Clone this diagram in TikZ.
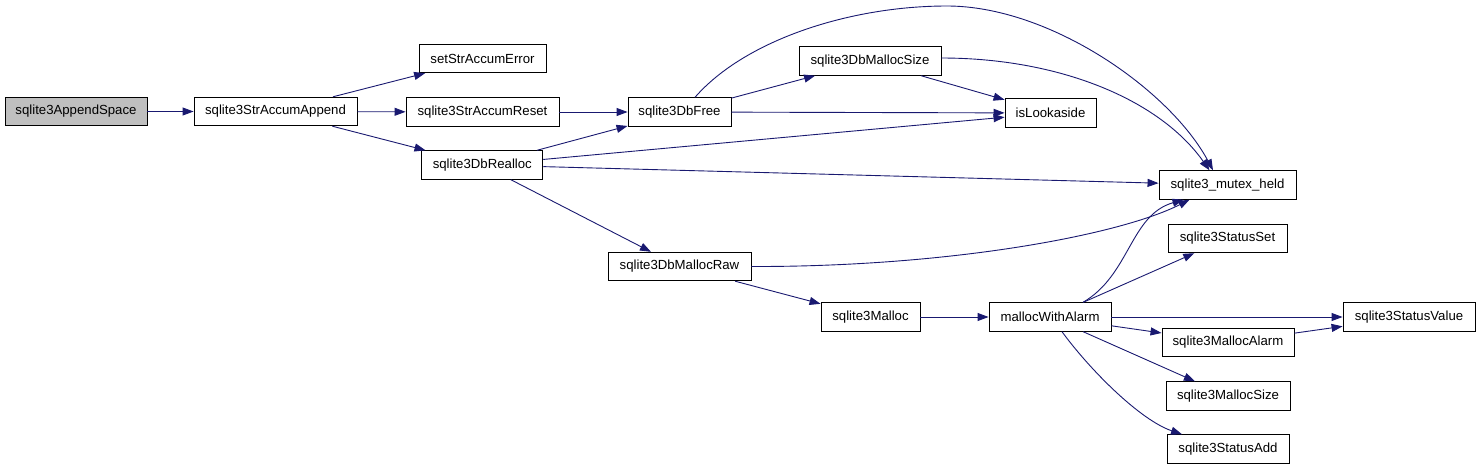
\documentclass[tikz,border=0pt]{standalone}
\usepackage{fontspec}
\setmainfont{Liberation Sans}
\usetikzlibrary{arrows.meta}
\definecolor{edgeblue}{RGB}{25,25,112}
\definecolor{rootgray}{RGB}{191,191,191}
\begin{document}
\begin{tikzpicture}[x=1pt,y=-1pt,
  fn/.style={draw=black, line width=0.9pt, minimum height=28.5pt, inner sep=0pt, font=\fontsize{13.2}{15}\selectfont, fill=white},
  root/.style={fn, fill=rootgray},
  call/.style={draw=edgeblue, line width=0.9pt, -{Triangle[length=11pt,width=8pt]}}]
\useasboundingbox (0,0) rectangle (1480,469);
% nodes
\node[root, minimum width=142pt] (app) at (76,111.5) {sqlite3AppendSpace};
\node[fn, minimum width=163pt] (sacc) at (275.5,111.5) {sqlite3StrAccumAppend};
\node[fn, minimum width=127pt] (serr) at (482.5,58.5) {setStrAccumError};
\node[fn, minimum width=153pt] (sres) at (482.5,112) {sqlite3StrAccumReset};
\node[fn, minimum width=121pt] (realloc) at (482.3,165) {sqlite3DbRealloc};
\node[fn, minimum width=103pt] (free) at (679.5,112) {sqlite3DbFree};
\node[fn, minimum width=142pt] (dbms) at (870,61) {sqlite3DbMallocSize};
\node[fn, minimum width=91pt] (look) at (1050.5,113) {isLookaside};
\node[fn, minimum width=137pt] (mutex) at (1227.5,185) {sqlite3\_mutex\_held};
\node[fn, minimum width=143pt] (raw) at (679.5,266.5) {sqlite3DbMallocRaw};
\node[fn, minimum width=99pt] (malloc) at (870.5,317) {sqlite3Malloc};
\node[fn, minimum width=122pt] (mwa) at (1050,317) {mallocWithAlarm};
\node[fn, minimum width=119pt] (sset) at (1227.5,238.5) {sqlite3StatusSet};
\node[fn, minimum width=132pt] (sval) at (1409,317) {sqlite3StatusValue};
\node[fn, minimum width=132pt] (malarm) at (1228,342.5) {sqlite3MallocAlarm};
\node[fn, minimum width=124pt] (msize) at (1228,396) {sqlite3MallocSize};
\node[fn, minimum width=122pt] (sadd) at (1228,449) {sqlite3StatusAdd};
% edges
\draw[call] (app) -- (sacc);
\draw[call] (sacc) -- (serr);
\draw[call] (sacc) -- (sres);
\draw[call] (sacc) -- (realloc);
\draw[call] (sres) -- (free);
\draw[call] (realloc) -- (free);
\draw[call] (realloc) -- (look);
\draw[call] (realloc) -- (mutex);
\draw[call] (realloc) -- (raw);
\draw[call] (free) -- (dbms);
\draw[call] (free) -- (look);
\draw[call] ([xshift=15.5pt]free.north) .. controls (745,40) and (850,6) .. (947,6)
  .. controls (1050,6) and (1170,90) .. ([xshift=-14.5pt]mutex.north);
\draw[call] (dbms) -- (look);
\draw[call] ([yshift=3pt]dbms.east) .. controls (1060,58) and (1160,100) .. ([xshift=-18pt]mutex.north);
\draw[call] (raw.east) .. controls (950,267) and (1120,235) .. ([xshift=-38pt]mutex.south);
\draw[call] (raw) -- (malloc);
\draw[call] (malloc) -- (mwa);
\draw[call] ([xshift=33pt]mwa.north) .. controls (1130,275) and (1130,215) .. ([xshift=-44pt]mutex.south);
\draw[call] (mwa) -- (sset);
\draw[call] (mwa) -- (sval);
\draw[call] (mwa) -- (malarm);
\draw[call] (malarm) -- (sval);
\draw[call] (mwa) -- (msize);
\draw[call] ([xshift=12pt]mwa.south) .. controls (1090,370) and (1140,420) .. ([xshift=-46pt]sadd.north);
\end{tikzpicture}
\end{document}
